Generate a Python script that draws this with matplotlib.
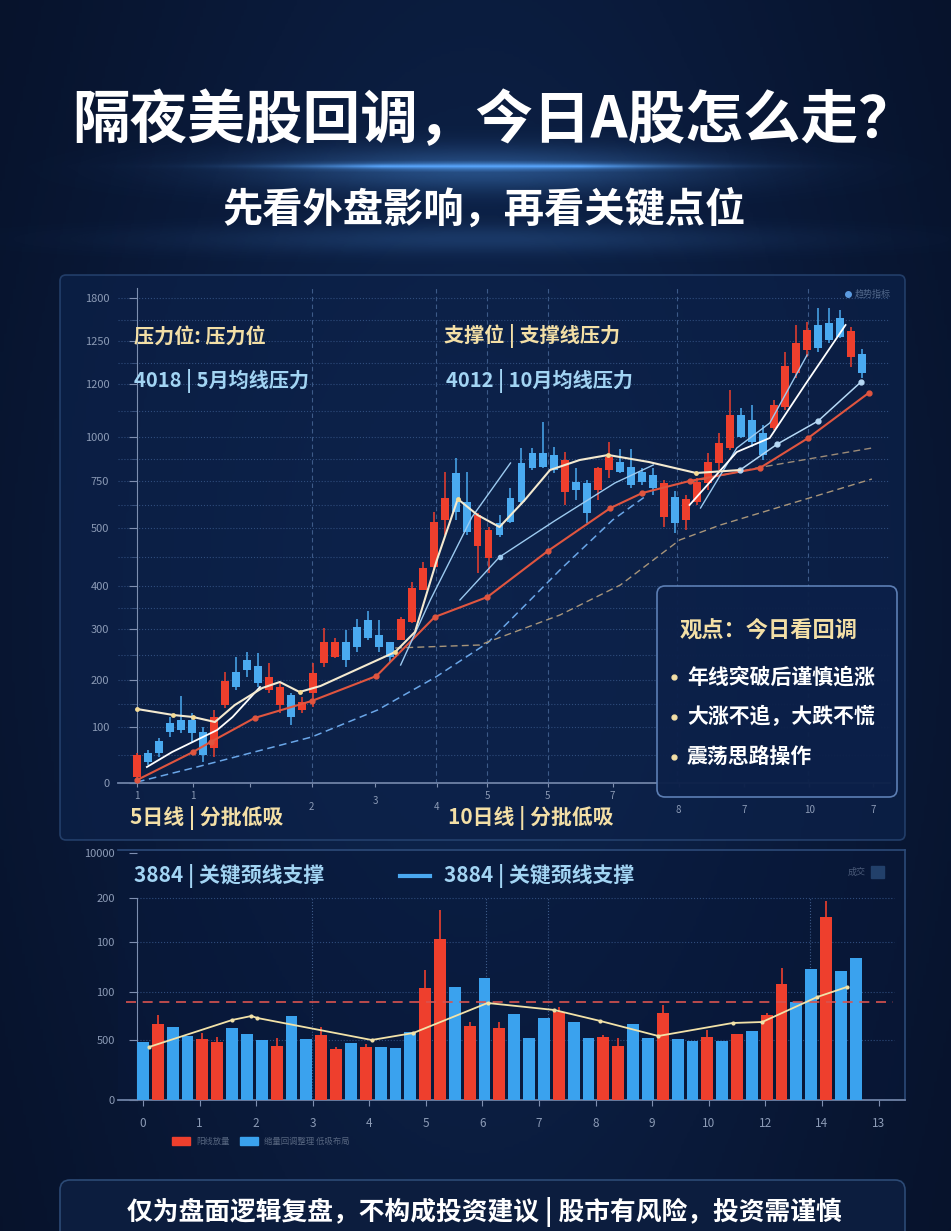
import numpy as np
import matplotlib.pyplot as plt
from matplotlib.patches import FancyBboxPatch, Rectangle
from matplotlib.colors import LinearSegmentedColormap, to_rgb
from matplotlib.transforms import ScaledTranslation

plt.rcParams['font.family'] = ['Noto Sans CJK SC', 'DejaVu Sans']

W, H = 951, 1231

# ---------------- data ----------------
title = '隔夜美股回调，今日A股怎么走？'
subtitle = '先看外盘影响，再看关键点位'
footer = '仅为盘面逻辑复盘，不构成投资建议 | 股市有风险，投资需谨慎'

# main chart: y tick labels (axis is not linear in the picture)
k_ytick_pos = [0, 56, 103, 154, 197, 255, 302, 346, 399, 442, 485]
k_ytick_lab = ['0', '100', '200', '300', '400', '500', '750', '1000', '1200', '1250', '1800']
k_xtick_pos = [0, 5.1, 10.3, 15.9, 21.7, 27.3, 31.9, 37.4, 43.3, 49.3, 55.3, 61.2, 67.0]
k_xtick_lab = ['1', '1', '', '2', '3', '4', '5', '5', '7', '8', '7', '10', '7']
k_vgrid = [15.9, 27.2, 31.9, 37.4, 49.2, 61.1]

k_open  = [6, 30, 42, 60, 63, 63, 51, 35, 78, 111, 123, 117, 93, 78, 88, 73, 90,
           120, 126, 141, 156, 163, 148, 141, 143, 161, 193, 216, 263, 310, 281, 237,
           225, 260, 285, 320, 330, 330, 328, 291, 301, 300, 293, 313, 321, 316, 311,
           308, 266, 286, 263, 281, 300, 320, 335, 368, 363, 350, 355, 376, 410, 433,
           458, 460, 465, 426, 429]
k_close = [28, 21, 30, 51, 53, 50, 28, 66, 102, 96, 113, 100, 106, 96, 66, 81, 110,
           141, 141, 123, 136, 145, 136, 126, 164, 195, 215, 261, 285, 271, 251, 268,
           253, 248, 261, 281, 315, 316, 313, 323, 293, 270, 315, 326, 311, 298, 301,
           295, 300, 260, 284, 301, 321, 340, 368, 346, 341, 328, 378, 417, 440, 453,
           435, 443, 446, 452, 410]
k_high  = [30, 33, 45, 66, 87, 70, 56, 73, 111, 126, 131, 130, 120, 100, 90, 86, 120,
           155, 145, 153, 164, 172, 163, 141, 166, 201, 221, 271, 311, 325, 311, 270,
           256, 268, 295, 335, 335, 361, 336, 331, 315, 303, 316, 341, 334, 334, 315,
           315, 303, 292, 288, 305, 330, 350, 393, 375, 378, 358, 383, 431, 458, 461,
           475, 475, 473, 456, 434]
k_low   = [1, 18, 26, 46, 50, 40, 21, 26, 75, 93, 106, 96, 90, 70, 58, 70, 76,
           116, 125, 116, 131, 143, 131, 121, 143, 160, 193, 213, 248, 263, 248, 210,
           210, 246, 260, 278, 313, 315, 310, 278, 283, 260, 283, 305, 310, 295, 298,
           288, 256, 250, 253, 278, 293, 313, 333, 345, 336, 323, 353, 373, 405, 426,
           431, 440, 445, 416, 405]

# moving-average style lines (day index, level)
ma_red_x = [0, 5.1, 6.7, 10.7, 15.9, 21.8, 27.1, 31.9, 37.4, 43.1, 46.0, 50.3, 56.7, 61.1, 66.6]
ma_red_y = [3, 31, 41, 65, 82, 107, 166, 186, 232, 275, 290, 302, 315, 345, 390]
ma_blue_x = [0, 5.1, 15.9, 21.9, 27.2, 31.9, 34.9, 38.5, 43.3, 46.2]
ma_blue_y = [1, 15, 46, 73, 106, 140, 173, 213, 263, 286]
ma_tan1_x = [23.5, 31.2, 38.5, 44.0, 49.4, 53.1, 66.9]
ma_tan1_y = [135, 138, 168, 198, 243, 258, 304]
ma_tan2_x = [50.3, 56.4, 66.9]
ma_tan2_y = [301, 315, 335]
ma_cream_x = [0, 3.3, 5.1, 7.1, 8.9, 11.4, 13.0, 14.8, 16.7, 20.3, 23.5, 25.3, 27.3,
              29.2, 31.0, 33.0, 35.3, 37.6, 40.3, 42.9, 46.6, 50.9, 54.9]
ma_cream_y = [74, 68, 66, 61, 78, 95, 101, 91, 97, 115, 131, 151, 223,
              284, 268, 256, 283, 313, 323, 328, 321, 310, 313]
ma_white1_x = [0.9, 3.2, 7.3, 8.7, 11.2]
ma_white1_y = [16, 31, 53, 66, 96]
ma_white2_x = [50.3, 54.6, 57.6, 60.8, 64.5]
ma_white2_y = [278, 331, 345, 398, 458]
ma_lb1_x = [24.0, 26.7, 30.5, 34.0]
ma_lb1_y = [118, 183, 266, 320]
ma_lb2_x = [29.4, 33.0, 38.0, 43.5, 47.0]
ma_lb2_y = [183, 226, 262, 300, 318]
ma_lb3_x = [51.3, 54.6, 57.6, 61.0]
ma_lb3_y = [275, 335, 360, 428]
ma_lb4_x = [54.9, 58.3, 62.0, 65.9]
ma_lb4_y = [313, 339, 362, 401]

# volume chart
v_ytick_pos = [0, 60, 108, 158, 202, 247]
v_ytick_lab = ['0', '500', '100', '100', '200', '10000']
v_xtick_lab = ['0', '1', '2', '3', '4', '5', '6', '7', '8', '9', '10', '12', '14', '13']
v_vgrid = [11.4, 23.1, 27.3, 44.9]
vol = [58, 76, 73, 64, 61, 58, 72, 66, 60, 54, 84, 61, 65, 51, 57, 53, 53, 52, 68, 112,
       161, 113, 74, 122, 72, 86, 62, 82, 88, 78, 62, 63, 54, 76, 62, 87, 61, 59, 63, 59,
       66, 69, 85, 116, 98, 131, 183, 129, 142]
vol_up = [0, 1, 0, 0, 1, 1, 0, 0, 0, 1, 0, 0, 1, 1, 0, 1, 0, 0, 0, 1,
          1, 0, 1, 0, 1, 0, 0, 0, 1, 0, 0, 1, 1, 0, 0, 1, 0, 0, 1, 0,
          1, 0, 1, 1, 0, 0, 1, 0, 0]
vol_high = [58, 85, 73, 64, 67, 63, 72, 66, 60, 62, 84, 61, 73, 53, 57, 56, 53, 52, 68, 130,
            190, 113, 78, 122, 78, 86, 62, 82, 93, 78, 62, 65, 62, 76, 62, 95, 61, 59, 70, 59,
            66, 69, 87, 132, 98, 131, 199, 129, 142]
vol_avg_x = [0.4, 6.0, 7.3, 7.7, 15.4, 18.2, 23.2, 27.7, 30.8, 34.7, 39.7, 41.7, 45.4, 47.4]
vol_avg_y = [53, 80, 84, 82, 60, 67, 97, 90, 79, 64, 77, 78, 103, 113]
vol_neck = 98

RED, BLUE = '#ee3f2d', '#4aaaf0'
CREAM, LBLUE = '#f3dfa6', '#a2d4f3'
TICK = '#8c9bb6'

# ---------------- figure & background ----------------
fig = plt.figure(figsize=(W / 100, H / 100), dpi=100)
bg = fig.add_axes([0, 0, 1, 1], zorder=0)
bg.set_xlim(0, W)
bg.set_ylim(H, 0)
bg.axis('off')

yy, xx = np.mgrid[0:H:3, 0:W:3]
t = 0.18 + 0.55 * np.exp(-((xx - 475) / 480.0) ** 2) * (0.55 + 0.45 * np.exp(-((yy - 600) / 520.0) ** 2))
bg_cmap = LinearSegmentedColormap.from_list('bg', ['#020714', '#0a1a3a', '#123264'])
bg.imshow(t, cmap=bg_cmap, vmin=0, vmax=1, extent=(0, W, H, 0), aspect='auto', interpolation='bilinear')

# glow under title
glow = np.exp(-((xx - 480) / 170.0) ** 2 - ((yy - 165) / 2.5) ** 2) \
    + 0.35 * np.exp(-((xx - 480) / 230.0) ** 2 - ((yy - 168) / 22.0) ** 2) \
    + 0.18 * np.exp(-((xx - 480) / 300.0) ** 2 - ((yy - 238) / 14.0) ** 2)
rgba = np.zeros(glow.shape + (4,))
rgba[..., :3] = to_rgb('#5aa8ff')
rgba[..., 3] = np.clip(glow, 0, 1)
bg.imshow(rgba, extent=(0, W, H, 0), aspect='auto', interpolation='bilinear')

bg.text(494, 121, title, color='white', fontsize=41.5, fontweight='bold', ha='center', va='center')
bg.text(484, 210, subtitle, color='white', fontsize=29, fontweight='bold', ha='center', va='center')

# panels
bg.add_patch(FancyBboxPatch((60, 275), 845, 565, boxstyle='round,pad=0,rounding_size=6',
                            facecolor='#0c2149', edgecolor='#2b4a78', lw=1.2, alpha=0.75))
bg.add_patch(Rectangle((118, 850), 787, 250, facecolor='#08183a', edgecolor='none', alpha=0.5))
bg.add_patch(FancyBboxPatch((60, 1180), 845, 80, boxstyle='round,pad=0,rounding_size=10',
                            facecolor='#0c1d3e', edgecolor='#2c4a75', lw=1.2))

# ---------------- main candle chart ----------------
ax = fig.add_axes([118 / W, 1 - 783 / H, (890 - 118) / W, (783 - 288) / H], zorder=2)
ax.patch.set_alpha(0)
ax.set_xlim((118 - 137) / 10.985, (890 - 137) / 10.985)
ax.set_ylim(0, 495)

idx = np.arange(len(k_open))
o, c = np.array(k_open), np.array(k_close)
cols = [RED if cc >= oo else BLUE for oo, cc in zip(o, c)]
ax.vlines(idx, k_low, k_high, colors=cols, lw=1.1, zorder=3)
ax.bar(idx, np.maximum(np.abs(c - o), 2), bottom=np.minimum(o, c), width=0.72,
       color=cols, zorder=4)

ax.plot(ma_blue_x, ma_blue_y, color='#6aa6e8', lw=1.1, ls=(0, (5, 3)), zorder=5)
ax.plot(ma_tan1_x, ma_tan1_y, color='#a8957a', lw=1.0, ls=(0, (5, 3)), zorder=5)
ax.plot(ma_tan2_x, ma_tan2_y, color='#9c8b78', lw=1.0, ls=(0, (5, 3)), zorder=5)
ax.plot(ma_red_x, ma_red_y, color='#e0553f', lw=1.5, marker='o', ms=3.5, zorder=6)
ax.plot(ma_lb1_x, ma_lb1_y, color='#9ccaf0', lw=1.0, zorder=6)
ax.plot(ma_lb2_x, ma_lb2_y, color='#9ccaf0', lw=1.0, marker='o', ms=3, markevery=[1], zorder=6)
ax.plot(ma_lb3_x, ma_lb3_y, color='#9ccaf0', lw=1.0, zorder=6)
ax.plot(ma_lb4_x, ma_lb4_y, color='#b5d8f5', lw=1.1, marker='o', ms=3.5, zorder=6)
ax.plot(ma_white1_x, ma_white1_y, color='white', lw=1.3, zorder=6)
ax.plot(ma_white2_x, ma_white2_y, color='white', lw=1.3, zorder=6)
ax.plot(ma_cream_x, ma_cream_y, color='#f4ead0', lw=1.5, marker='o', ms=3.5,
        markerfacecolor='#f6dc96', markeredgecolor='none',
        markevery=[0, 1, 2, 7, 10, 13, 19, 21], zorder=7)

for s in ['top', 'right']:
    ax.spines[s].set_visible(False)
ax.spines['left'].set_position(('data', 0))
ax.spines['left'].set_color('#7d8fb0')
ax.spines['bottom'].set_color('#6f82a6')
ax.spines['bottom'].set_linewidth(1.3)
ax.set_yticks(k_ytick_pos, k_ytick_lab)
ax.set_yticks([(a + b) / 2 for a, b in zip(k_ytick_pos[:-1], k_ytick_pos[1:])], minor=True)
ax.set_xticks(k_xtick_pos, k_xtick_lab)
ax.tick_params(axis='y', which='major', colors='#7f8fb0', labelcolor=TICK, labelsize=8,
               length=6, pad=14)
ax.tick_params(axis='y', which='minor', colors='#3c5480', length=4)
ax.tick_params(axis='x', colors='#7f8fb0', labelcolor=TICK, labelsize=7, length=3, pad=3)
# the labels sit at uneven heights in the picture
for lab, dy in zip(ax.get_xticklabels(), [0, 0, 0, 8, 3, 8, 0, 0, 0, 10, 10, 10, 10]):
    lab.set_transform(lab.get_transform() + ScaledTranslation(0, -dy / 72, fig.dpi_scale_trans))
ax.grid(axis='y', which='both', ls=':', color='#2f4c7c', lw=0.8)
for gx in k_vgrid:
    ax.axvline(gx, color='#3d5a88', lw=0.8, ls=(0, (4, 3)), zorder=1)

# ---------------- volume chart ----------------
vx = fig.add_axes([118 / W, 1 - 1100 / H, (905 - 118) / W, (1100 - 850) / H], zorder=2)
vx.patch.set_alpha(0)
vx.set_xlim((118 - 143) / 14.85, (905 - 143) / 14.85)
vx.set_ylim(0, 250)
vi = np.arange(len(vol))
vcols = [RED if u else '#3aa2ee' for u in vol_up]
vx.vlines(vi, vol, vol_high, colors=vcols, lw=1.2, zorder=3)
vx.bar(vi, vol, width=0.8, color=vcols, zorder=4)
vx.axhline(vol_neck, xmin=0.01, xmax=0.985, color='#d9534f', lw=1.2, ls=(0, (6, 4)), zorder=5)
vx.plot(vol_avg_x, vol_avg_y, color='#f2e2a8', lw=1.3, marker='o', ms=3,
        markeredgecolor='none', zorder=6)
for gy in v_ytick_pos[1:5]:
    vx.hlines(gy, -0.4, 50.6, color='#2f4c7c', lw=0.8, ls=':', zorder=1)
for gx in v_vgrid:
    vx.vlines(gx, 0, 202, color='#3d5a88', lw=0.8, ls=':', zorder=1)

vx.spines['left'].set_position(('data', -0.4))
vx.spines['left'].set_bounds(0, 202)
vx.spines['left'].set_color('#7d8fb0')
vx.spines['bottom'].set_color('#6f82a6')
vx.spines['bottom'].set_linewidth(1.3)
for s in ['top', 'right']:
    vx.spines[s].set_color('#2c4a78')
    vx.spines[s].set_linewidth(1.2)
vx.set_yticks(v_ytick_pos, v_ytick_lab)
vx.set_xticks(np.arange(len(v_xtick_lab)) * 3.81, v_xtick_lab)
vx.tick_params(axis='y', colors='#7f8fb0', labelcolor=TICK, labelsize=8, length=6, pad=10)
vx.tick_params(axis='x', colors='#7f8fb0', labelcolor=TICK, labelsize=8.5, length=4, pad=8)

# ---------------- overlay texts ----------------
ov = fig.add_axes([0, 0, 1, 1], zorder=5)
ov.set_xlim(0, W)
ov.set_ylim(H, 0)
ov.axis('off')
ov.patch.set_alpha(0)

ov.text(134, 336, '压力位: 压力位', color=CREAM, fontsize=14.5, fontweight='bold', va='center')
ov.text(134, 381, '4018 | 5月均线压力', color=LBLUE, fontsize=14.5, fontweight='bold', va='center')
ov.text(444, 336, '支撑位 | 支撑线压力', color=CREAM, fontsize=14.5, fontweight='bold', va='center')
ov.text(446, 381, '4012 | 10月均线压力', color=LBLUE, fontsize=14.5, fontweight='bold', va='center')
ov.text(130, 818, '5日线 | 分批低吸', color=CREAM, fontsize=15, fontweight='bold', va='center')
ov.text(448, 818, '10日线 | 分批低吸', color=CREAM, fontsize=15, fontweight='bold', va='center')
ov.plot([848], [294], 'o', color='#5c9be0', ms=4)
ov.text(855, 294, '趋势指标', color='#53698c', fontsize=6.5, va='center')

ov.add_patch(FancyBboxPatch((657, 586), 240, 211, boxstyle='round,pad=0,rounding_size=8',
                            facecolor='#0c2049', edgecolor='#5f82b8', lw=1.2, alpha=0.97))
ov.text(680, 630, '观点：今日看回调', color=CREAM, fontsize=16, fontweight='bold', va='center')
for yb, line in zip([677, 717, 757], ['年线突破后谨慎追涨', '大涨不追，大跌不慌', '震荡思路操作']):
    ov.plot([674], [yb], 'o', color=CREAM, ms=3.5)
    ov.text(687, yb, line, color='white', fontsize=15, fontweight='bold', va='center')

ov.text(134, 876, '3884 | 关键颈线支撑', color=LBLUE, fontsize=15, fontweight='bold', va='center')
ov.plot([400, 430], [876, 876], color='#4aa8f0', lw=3)
ov.text(444, 876, '3884 | 关键颈线支撑', color=LBLUE, fontsize=15, fontweight='bold', va='center')
ov.text(866, 872, '成交', color='#4a5a78', fontsize=6.5, ha='right', va='center')
ov.add_patch(Rectangle((871, 866), 13, 12, color='#22406a'))

ov.add_patch(Rectangle((172, 1137), 18, 8, color=RED))
ov.text(196, 1141, '阳线放量', color='#56657f', fontsize=6, va='center')
ov.add_patch(Rectangle((240, 1137), 18, 8, color='#3aa2ee'))
ov.text(264, 1141, '缩量回调整理 低吸布局', color='#56657f', fontsize=6, va='center')

ov.text(484, 1212, footer, color='white', fontsize=18.5, fontweight='bold', ha='center', va='center')

fig.savefig('out.png', dpi=100, facecolor='#050d1f')
